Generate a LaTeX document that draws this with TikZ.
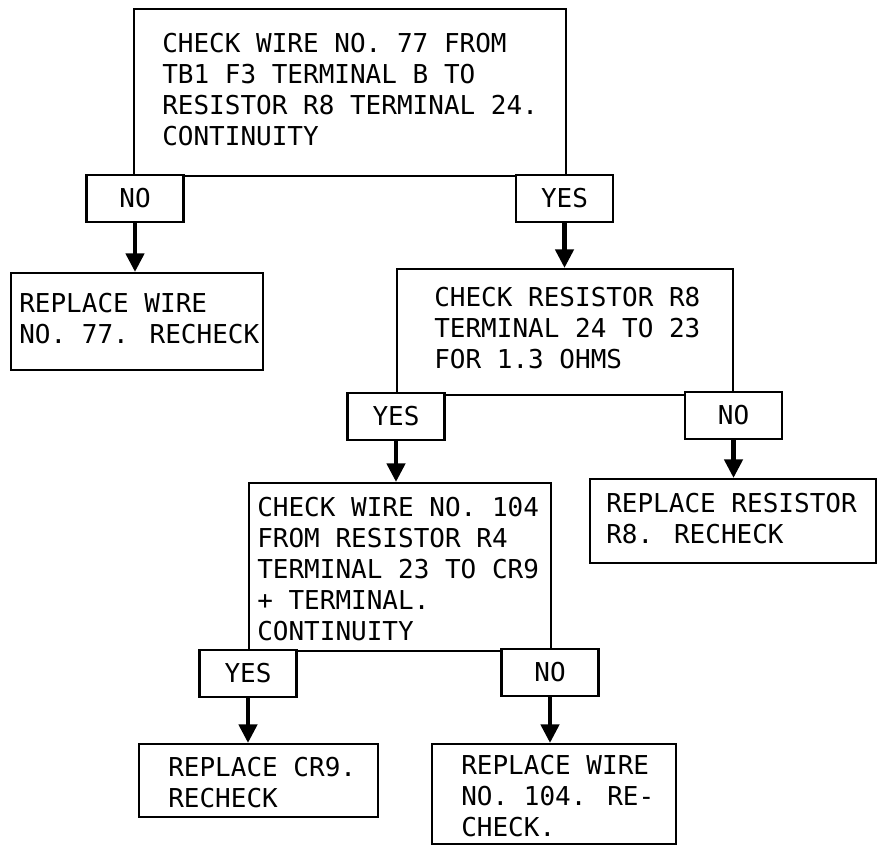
\documentclass[tikz,border=0pt]{standalone}
\usepackage{fontspec}
\usetikzlibrary{arrows.meta}
\newfontfamily\flowmono{DejaVu Sans Mono}
\tikzset{
  frame/.style={draw, line width=1.8pt, inner sep=0pt, anchor=north west},
  lbl/.style={draw, fill=white, line width=1.8pt, inner sep=0pt,
    minimum width=72.75pt, minimum height=35.25pt,
    font=\flowmono\fontsize{19.5pt}{23.25pt}\selectfont},
  txt/.style={anchor=north west, inner sep=0pt, align=left,
    font=\flowmono\fontsize{19.5pt}{23.25pt}\selectfont},
  flow/.style={line width=3.4pt, -{Triangle[width=13.5pt,length=14pt]}}
}
\begin{document}
\begin{tikzpicture}[x=0.75pt,y=-0.75pt]
\useasboundingbox (0,0) rectangle (880,848);

% decision and action boxes
\node[frame, minimum width=324pt, minimum height=125.25pt] (b1) at (133,8) {};
\node[frame, minimum width=189pt, minimum height=72.75pt] (r1) at (10,272) {};
\node[frame, minimum width=252pt, minimum height=94.5pt] (b2) at (396,268) {};
\node[frame, minimum width=214.5pt, minimum height=63pt] (r2) at (589,478) {};
\node[frame, minimum width=226.5pt, minimum height=126pt] (b3) at (248,482) {};
\node[frame, minimum width=179.25pt, minimum height=54.75pt] (r3) at (138,743) {};
\node[frame, minimum width=183pt, minimum height=75pt] (r4) at (431,743) {};

% box texts
\node[txt] (b1t) at (162,33) {CHECK WIRE NO. 77 FROM\\TB1 F3 TERMINAL B TO\\RESISTOR R8 TERMINAL 24.\\CONTINUITY};
\node[txt] (r1t) at (19,293) {REPLACE WIRE\\NO. 77. RECHECK};
\node[txt] (b2t) at (434,287) {CHECK RESISTOR R8\\TERMINAL 24 TO 23\\FOR 1.3 OHMS};
\node[txt] (r2t) at (606,493) {REPLACE RESISTOR\\R8. RECHECK};
\node[txt] (b3t) at (257,497) {CHECK WIRE NO. 104\\FROM RESISTOR R4\\TERMINAL 23 TO CR9\\+ TERMINAL.\\CONTINUITY};
\node[txt] (r3t) at (168,757) {REPLACE CR9.\\RECHECK};
\node[txt] (r4t) at (461,755) {REPLACE WIRE\\NO. 104. RE-\\CHECK.};

% answer tabs on the box corners
\node[lbl] (n1) at (135,198.5) {NO};
\node[lbl] (y1) at (564.5,198.5) {YES};
\node[lbl] (y2) at (396,416.5) {YES};
\node[lbl] (n2) at (733.5,415.5) {NO};
\node[lbl] (y3) at (248,673.5) {YES};
\node[lbl] (n3) at (550,672.5) {NO};

% flow arrows
\draw[flow] (n1.south) -- (n1.south |- r1.north);
\draw[flow] (y1.south) -- (y1.south |- b2.north);
\draw[flow] (y2.south) -- (y2.south |- b3.north);
\draw[flow] (n2.south) -- (n2.south |- r2.north);
\draw[flow] (y3.south) -- (y3.south |- r3.north);
\draw[flow] (n3.south) -- (n3.south |- r4.north);
\end{tikzpicture}
\end{document}
